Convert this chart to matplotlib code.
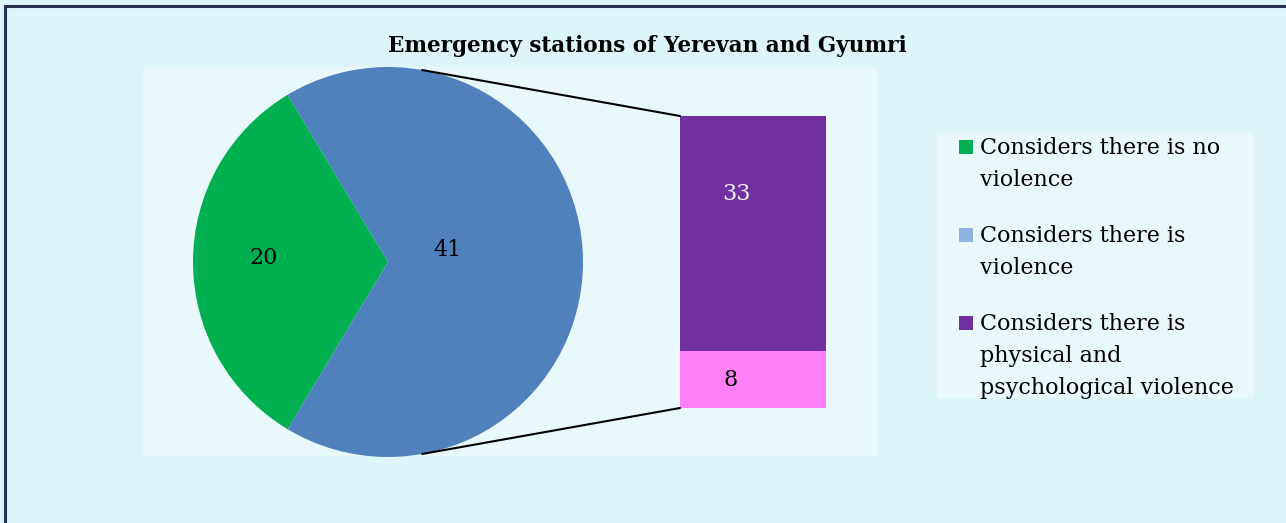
import numpy as np
import matplotlib
matplotlib.use('Agg')
import matplotlib.pyplot as plt
from matplotlib.patches import Rectangle, ConnectionPatch

""" Data """
pieLabels = ['Considers there is no violence', 'Considers there is violence']
pieValues = [20, 41]
barLabels = ['Considers there is physical and psychological violence', 'other']
barValues = [33, 8]
legendLabels = ['Considers there is no\nviolence',
                'Considers there is\nviolence',
                'Considers there is\nphysical and\npsychological violence']
title = 'Emergency stations of Yerevan and Gyumri'

""" Styles """
pieColors = ['#00B050', '#4F81BD']
barColors = ['#7030A0', '#FF80F6']
legendColors = ['#00B050', '#8DB4E2', '#7030A0']
figBg = '#DDF4F8'
plotBg = '#E9F8FB'
fontName = ['DejaVu Serif']

W, H = 1286, 523
plt.rcParams['font.family'] = fontName
fig = plt.figure(figsize=(W/100, H/100), dpi=100, facecolor=figBg)

def px_axes(x0, y0, x1, y1):
    # pixel box (top-left origin) -> figure fraction axes
    return fig.add_axes([x0/W, 1 - y1/H, (x1 - x0)/W, (y1 - y0)/H])

# background / border
bg = fig.add_axes([0, 0, 1, 1])
bg.set_xlim(0, W)
bg.set_ylim(H, 0)
bg.axis('off')
bg.add_patch(Rectangle((143, 67), 877 - 143, 456 - 67, facecolor=plotBg, edgecolor='none'))
bg.plot([4.5, 4.5, W + 5], [H + 5, 6, 6], color='#26314F', linewidth=2.2, solid_joinstyle='miter')
bg.text(647, 52, title, ha='center', va='baseline', fontsize=15.5, fontweight='bold')

# pie
cx, cy, r = 388, 262, 195
axPie = px_axes(cx - r, cy - r, cx + r, cy + r)
total = sum(pieValues)
startAng = 180 - 360.0*pieValues[0]/total/2
wedges, _ = axPie.pie(pieValues, colors=pieColors, startangle=startAng, radius=1,
                      wedgeprops=dict(linewidth=0))
axPie.set_xlim(-1, 1)
axPie.set_ylim(-1, 1)
axPie.set_aspect('equal')
axPie.axis('off')
labelDist = [0.64, 0.305]
labelLift = [0.02, 0.06]
for w, v, d, lift in zip(wedges, pieValues, labelDist, labelLift):
    ang = np.deg2rad((w.theta1 + w.theta2)/2)
    axPie.text(d*np.cos(ang), d*np.sin(ang) + lift, str(v), ha='center', va='center',
               fontsize=16, color='black')

# bar of pie
bx0, bx1, by0, by1 = 680, 826, 116, 408
axBar = px_axes(bx0, by0, bx1, by1)
bottom = 0
barOrder = [1, 0]  # pink at bottom, purple on top
for i in barOrder:
    axBar.bar(0, barValues[i], width=1, bottom=bottom, color=barColors[i], linewidth=0)
    bottom += barValues[i]
axBar.set_xlim(-0.5, 0.5)
axBar.set_ylim(0, sum(barValues))
axBar.axis('off')
axBar.text(-0.11, 30.0, str(barValues[0]), ha='center', va='center', fontsize=16, color='#F2F2F2')
axBar.text(-0.15, 3.9, str(barValues[1]), ha='center', va='center', fontsize=16, color='black')

# connector lines: tangent from bar corners to pie
for (px, py), yb in [((bx0, by0), sum(barValues)), ((bx0, by1), 0)]:
    vx, vy = (px - cx)/r, (cy - py)/r
    d = np.hypot(vx, vy)
    base = np.arctan2(vy, vx)
    off = np.arccos(1.0/d)
    ang = base + off if vy > 0 else base - off
    con = ConnectionPatch(xyA=(np.cos(ang), np.sin(ang)), coordsA=axPie.transData,
                          xyB=(-0.5, yb), coordsB=axBar.transData,
                          color='black', linewidth=1.5)
    fig.add_artist(con)

# legend (drawn by hand so squares line up with the first text line)
bg.add_patch(Rectangle((937, 133), 1253 - 937, 398 - 133, facecolor=plotBg, edgecolor='none'))
lineH = 32
ypos = 140
for lab, col in zip(legendLabels, legendColors):
    lines = lab.split('\n')
    bg.add_patch(Rectangle((959, ypos), 14, 14, facecolor=col, edgecolor='none'))
    for k, line in enumerate(lines):
        bg.text(980, ypos + 14 + k*lineH, line, ha='left', va='baseline', fontsize=16)
    ypos += len(lines)*lineH + 24

fig.savefig('out.png', dpi=100, facecolor=figBg)
